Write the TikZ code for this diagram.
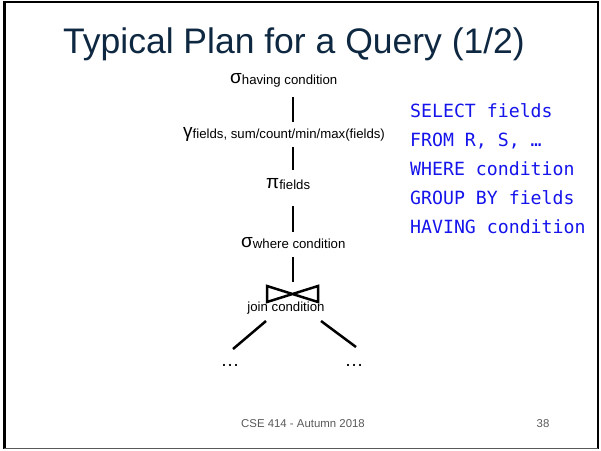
\documentclass[tikz,border=0pt]{standalone}
\usepackage{fontspec}
\setmainfont{Liberation Sans}
\newfontfamily\sqlfont{DejaVu Sans Mono}
\definecolor{titlenavy}{HTML}{0E2841}
\definecolor{sqlblue}{RGB}{20,20,235}
\definecolor{footgray}{HTML}{595959}
\newcommand{\opsub}[1]{\raisebox{-1.5pt}{\fontsize{13.2}{13.2}\selectfont #1}}
\tikzset{
  op/.style={inner sep=0pt, anchor=base west, font=\fontsize{19}{19}\selectfont},
  link/.style={line width=2.5pt},
  sql/.style={inner sep=0pt, anchor=base west, text=sqlblue, font=\sqlfont\fontsize{18.2}{18.2}\selectfont},
  foot/.style={inner sep=0pt, anchor=base, text=footgray, font=\fontsize{11.4}{11.4}\selectfont}
}
\begin{document}
\begin{tikzpicture}[x=1pt, y=-1pt] %1px = 1pt
	\useasboundingbox (0,0) rectangle (601,450);
		%Moldura
	\draw[line width=2.5pt] (4.5,449) -- (4.5,2) -- (598,2) -- (598,449);
	\draw[line width=1pt, footgray] (4,448.5) -- (598,448.5);
		%Titulo
	\node[inner sep=0pt, anchor=base, text=titlenavy, font=\fontsize{35.5}{35.5}\selectfont] (title) at (294,53) {Typical Plan for a Query (1/2)};
		%Operadores
	\node[op] (having) at (230,83) {σ\opsub{having condition}};
	\node[op] (gamma) at (183,137) {γ\opsub{fields, sum/count/min/max(fields)}};
	\node[op] (proj) at (266,188) {π\opsub{fields}};
	\node[op] (where) at (241,247) {σ\opsub{where condition}};
	\coordinate (bowtie) at (293,294);
	\node[inner sep=0pt, anchor=base, font=\fontsize{13.2}{13.2}\selectfont] (join) at (286,311) {join condition};
	\node[op, anchor=base] (ldots) at (230,366) {…};
	\node[op, anchor=base] (rdots) at (354,366) {…};
		%Arestas
	\draw[link, shorten <=14pt, shorten >=15pt] (having.base -| bowtie) -- (gamma.base -| bowtie);
	\draw[link, shorten <=10pt, shorten >=18pt] (gamma.base -| bowtie) -- (proj.base -| bowtie);
	\draw[link, shorten <=18pt, shorten >=15pt] (proj.base -| bowtie) -- (where.base -| bowtie);
	\draw[link, shorten <=10pt, shorten >=12pt] (where.base -| bowtie) -- (bowtie);
	\draw[link] (bowtie) ++(-26,-8) -- ++(51,16) -- ++(0,-16) -- ++(-51,16) -- cycle; %Juncao
	\draw[link] ([xshift=-20pt, yshift=-10pt]join.base) -- ([xshift=3pt, yshift=17pt]ldots.base);
	\draw[link] ([xshift=35pt, yshift=-10pt]join.base) -- ([xshift=2pt, yshift=19pt]rdots.base);
		%Consulta SQL
	\foreach \txt [count=\i] in {SELECT fields, {FROM R, S, …}, WHERE condition, GROUP BY fields, HAVING condition}
		\node[sql] (sql\i) at (410,87.8+29.2*\i) {\txt};
		%Rodape
	\node[foot] (course) at (303,427) {CSE 414 - Autumn 2018};
	\node[foot] (page) at (543,427) {38};
\end{tikzpicture}
\end{document}
